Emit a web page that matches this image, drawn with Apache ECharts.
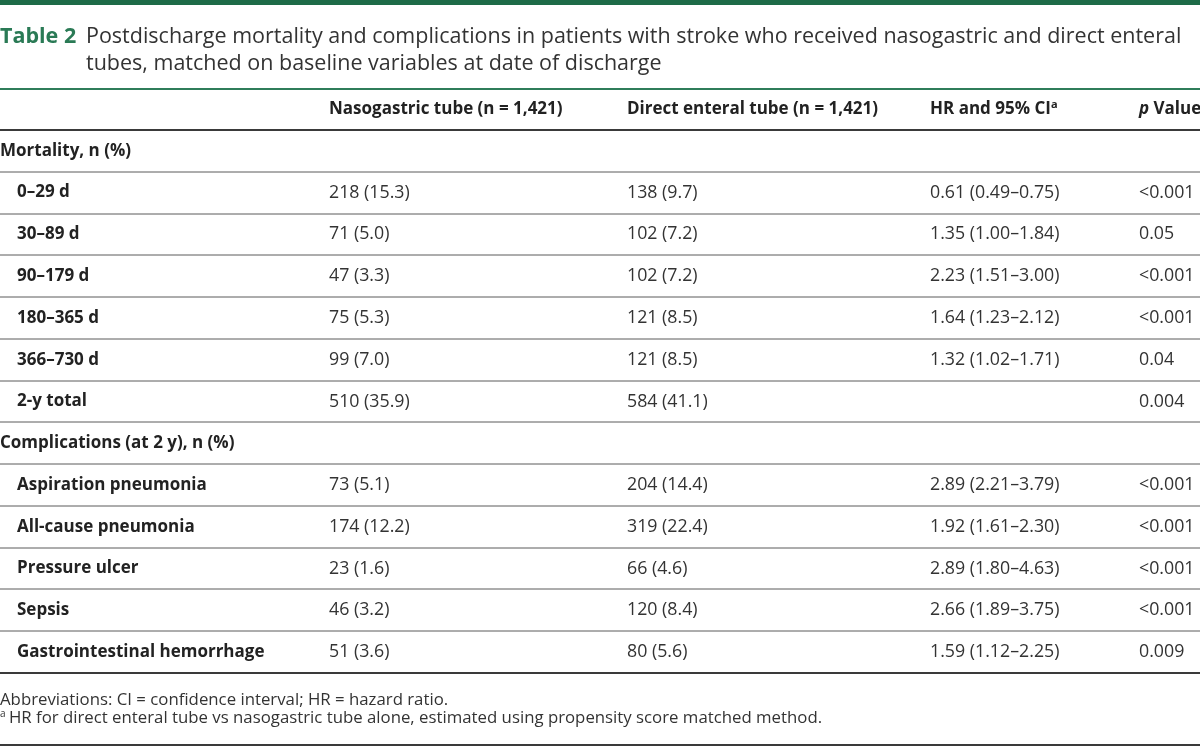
<!DOCTYPE html>
<html>
<head>
<meta charset="utf-8">
<script src="https://cdn.jsdelivr.net/npm/echarts@6/dist/echarts.min.js"></script>
<style>
html,body{margin:0;padding:0;background:#fff;}
#chart{width:1200px;height:747px;}
</style>
</head>
<body>
<div id="chart"></div>
<script>
// ---- data ----
const headers = ['', 'Nasogastric tube (n = 1,421)', 'Direct enteral tube (n = 1,421)', 'HR and 95% CI', 'p Value'];
const rowLabels = ['Mortality, n (%)', '0–29 d', '30–89 d', '90–179 d', '180–365 d', '366–730 d', '2-y total',
  'Complications (at 2 y), n (%)', 'Aspiration pneumonia', 'All-cause pneumonia', 'Pressure ulcer', 'Sepsis', 'Gastrointestinal hemorrhage'];
const rowIsSection = [true, false, false, false, false, false, false, true, false, false, false, false, false];
const ngValues = ['', '218 (15.3)', '71 (5.0)', '47 (3.3)', '75 (5.3)', '99 (7.0)', '510 (35.9)', '', '73 (5.1)', '174 (12.2)', '23 (1.6)', '46 (3.2)', '51 (3.6)'];
const deValues = ['', '138 (9.7)', '102 (7.2)', '102 (7.2)', '121 (8.5)', '121 (8.5)', '584 (41.1)', '', '204 (14.4)', '319 (22.4)', '66 (4.6)', '120 (8.4)', '80 (5.6)'];
const hrValues = ['', '0.61 (0.49–0.75)', '1.35 (1.00–1.84)', '2.23 (1.51–3.00)', '1.64 (1.23–2.12)', '1.32 (1.02–1.71)', '', '', '2.89 (2.21–3.79)', '1.92 (1.61–2.30)', '2.89 (1.80–4.63)', '2.66 (1.89–3.75)', '1.59 (1.12–2.25)'];
const pValues = ['', '<0.001', '0.05', '<0.001', '<0.001', '0.04', '0.004', '', '<0.001', '<0.001', '<0.001', '<0.001', '0.009'];
const titleLabel = 'Table 2';
const titleText = 'Postdischarge mortality and complications in patients with stroke who received nasogastric and direct enteral\ntubes, matched on baseline variables at date of discharge';
const footnote1 = 'Abbreviations: CI = confidence interval; HR = hazard ratio.';
const footnote2 = 'HR for direct enteral tube vs nasogastric tube alone, estimated using propensity score matched method.';

// ---- layout ----
const FONT = '"Open Sans"';
const TEXT = '#333';
const DARK = '#222';
const GREEN = '#2a7a55';
const BOLD = 'bold 17px ' + FONT;
const REG = '17.8px ' + FONT;
const colX = [0, 329, 627, 930, 1139];
const indentX = 17;
const rowCats = ['header'].concat(rowLabels);

const chart = echarts.init(document.getElementById('chart'), null, {renderer: 'canvas'});

const rowData = rowCats.map((c, i) => [0, i]);

function renderRow(params, api) {
  const i = api.value(1);
  const y = api.coord([0, i])[1];
  const x = c => api.coord([colX[c], i])[0];
  const children = [];
  if (i === 0) {
    children.push({type: 'text', style: {x: x(1), y: y, text: headers[1], font: BOLD, fill: DARK, verticalAlign: 'middle'}});
    children.push({type: 'text', style: {x: x(2), y: y, text: headers[2], font: BOLD, fill: DARK, verticalAlign: 'middle'}});
    children.push({type: 'text', style: {x: x(3), y: y, text: '{b|' + headers[3] + '}{s|a}', verticalAlign: 'middle',
      rich: {b: {font: BOLD, fill: DARK}, s: {font: 'bold 11px ' + FONT, fill: DARK, verticalAlign: 'top', padding: [0, 0, 9, 0]}}}});
    children.push({type: 'text', style: {x: x(4), y: y, text: '{i|p}{b| Value}', verticalAlign: 'middle',
      rich: {i: {font: 'italic bold 17px ' + FONT, fill: DARK}, b: {font: BOLD, fill: DARK}}}});
  } else {
    const r = i - 1;
    const sec = rowIsSection[r];
    children.push({type: 'text', style: {x: sec ? x(0) : x(0) + indentX, y: y, text: rowLabels[r], font: BOLD, fill: DARK, verticalAlign: 'middle'}});
    const vals = [ngValues[r], deValues[r], hrValues[r], pValues[r]];
    vals.forEach((v, k) => {
      if (v) children.push({type: 'text', style: {x: x(k + 1), y: y, text: v, font: REG, fill: TEXT, verticalAlign: 'middle'}});
    });
  }
  return {type: 'group', children: children};
}

function renderLine(params, api) {
  const i = api.value(1);
  const y = api.coord([0, i])[1];
  const h = api.size([0, 1])[1];
  const yb = Math.round(y + h / 2);
  const x0 = api.coord([0, i])[0];
  const x1 = api.coord([1200, i])[0];
  const heavy = (i === 0 || i === rowCats.length - 1);
  const children = [{type: 'line', shape: {x1: x0, y1: yb, x2: x1, y2: yb},
    style: {stroke: heavy ? '#3a3a3a' : '#5a5a5a', lineWidth: heavy ? 2 : 1}}];
  if (i === 0) {
    children.push({type: 'line', shape: {x1: x0, y1: Math.round(y - h / 2) + 1, x2: x1, y2: Math.round(y - h / 2) + 1},
      style: {stroke: '#2f7d5a', lineWidth: 2}});
  }
  return {type: 'group', children: children};
}

chart.setOption({
  animation: false,
  grid: {left: 0, right: 0, top: 88.2, bottom: 74},
  xAxis: {type: 'value', min: 0, max: 1200, show: false},
  yAxis: {type: 'category', data: rowCats, inverse: true, show: false},
  graphic: [
    {type: 'rect', left: 0, top: 0, shape: {width: 1200, height: 5}, style: {fill: '#1e6b48'}},
    {type: 'text', x: 0, y: 37, style: {text: titleLabel, font: 'bold 21.5px ' + FONT, fill: GREEN, verticalAlign: 'middle'}},
    {type: 'text', x: 86, y: 37, style: {text: titleText.split('\n')[0], font: '21.5px ' + FONT, fill: TEXT, verticalAlign: 'middle'}},
    {type: 'text', x: 86, y: 64, style: {text: titleText.split('\n')[1], font: '21.5px ' + FONT, fill: TEXT, verticalAlign: 'middle'}},
    {type: 'text', x: 0, y: 700, style: {text: footnote1, font: '16.8px ' + FONT, fill: TEXT, verticalAlign: 'middle'}},
    {type: 'text', x: 0, y: 718, style: {text: '{s|a} {t|' + footnote2 + '}', verticalAlign: 'middle',
      rich: {s: {font: '10px ' + FONT, fill: TEXT, verticalAlign: 'top', padding: [0, 0, 7, 0]}, t: {font: '16.8px ' + FONT, fill: TEXT}}}},
    {type: 'rect', left: 0, top: 744, shape: {width: 1200, height: 2}, style: {fill: '#3a3a3a'}}
  ],
  series: [
    {type: 'custom', renderItem: renderLine, data: rowData, silent: true, z: 1},
    {type: 'custom', renderItem: renderRow, data: rowData, silent: true, z: 2}
  ]
});
</script>
</body>
</html>
